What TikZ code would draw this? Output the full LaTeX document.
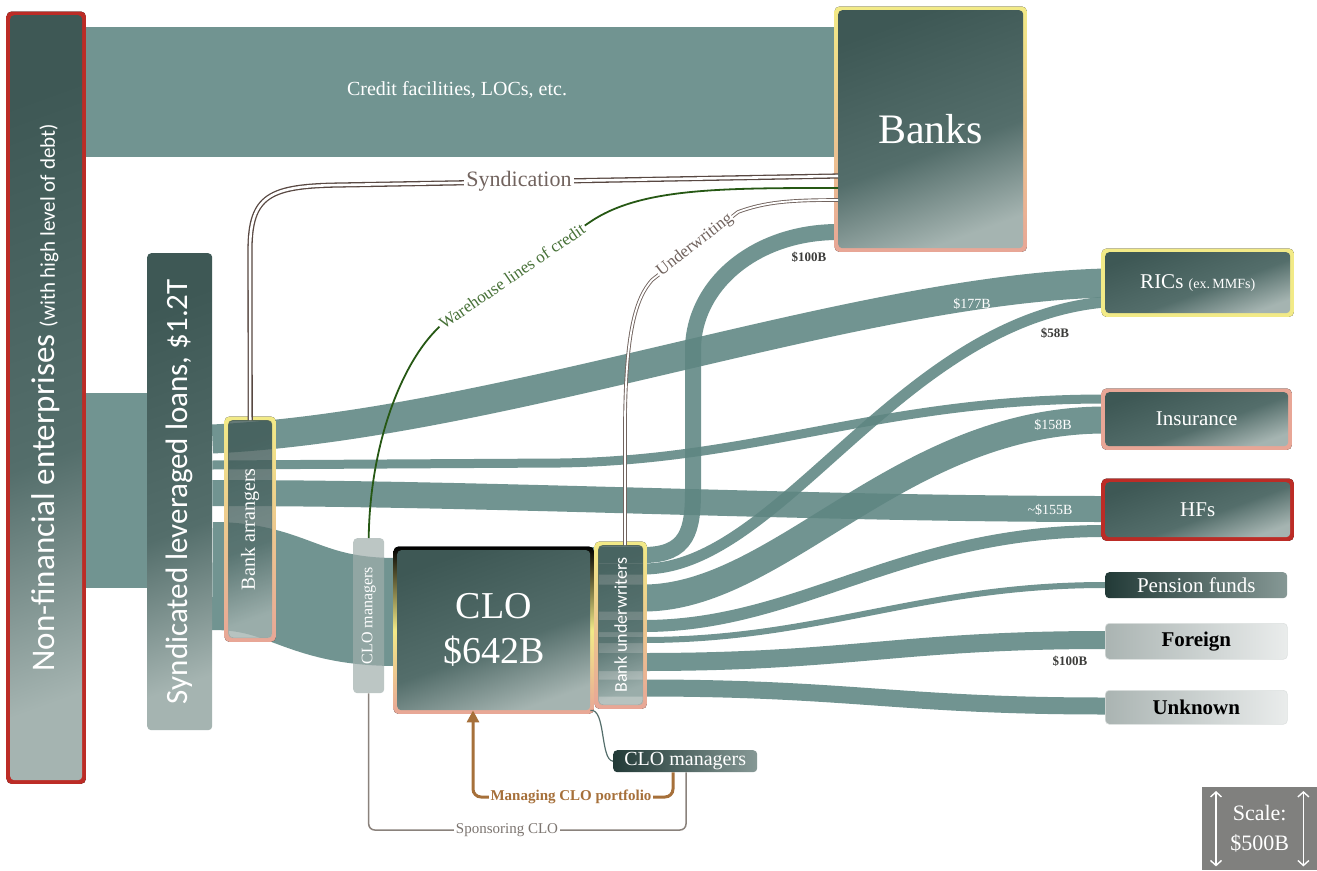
\documentclass[tikz,border=0pt]{standalone}
\usepackage{fontspec}
\setmainfont{Liberation Serif}
\newfontfamily\carlito{Carlito}
\usetikzlibrary{arrows.meta,calc,positioning}

\definecolor{streamc}{RGB}{94,134,130}
\definecolor{boxdark}{RGB}{62,88,85}
\definecolor{boxmid}{RGB}{84,110,107}
\definecolor{boxlight}{RGB}{165,180,177}
\definecolor{boxdeep}{RGB}{34,58,55}
\definecolor{framey}{RGB}{242,234,135}
\definecolor{framesal}{RGB}{232,166,150}
\definecolor{framer}{RGB}{188,44,38}
\definecolor{syndbrown}{RGB}{88,72,66}
\definecolor{whgreen}{RGB}{38,88,20}
\definecolor{mgrbrown}{RGB}{166,112,58}
\definecolor{sponsgrey}{RGB}{138,130,124}
\definecolor{cmvgrey}{RGB}{160,174,172}
\definecolor{scalegrey}{RGB}{128,128,126}
\definecolor{paleg}{RGB}{170,180,178}
\definecolor{darktext}{RGB}{60,60,58}

\pgfdeclarelayer{flows}
\pgfdeclarelayer{frames}
\pgfsetlayers{flows,frames,main}

\pgfdeclareverticalshading{boxshade}{100bp}{color(0bp)=(boxlight); color(25bp)=(boxlight); color(45bp)=(boxmid); color(75bp)=(boxdark); color(100bp)=(boxdark)}

\begin{document}
\begin{tikzpicture}[x=1pt, y=-1pt,
  stream/.style={draw=streamc, draw opacity=0.88, line width=#1},
  box/.style={anchor=north west, rounded corners=4pt, shade, shading=boxshade, shading angle=20, text=white, inner sep=0pt, align=center},
  glass/.style={box, fill opacity=0.8, text opacity=1},
  target/.style={box, font=\fontsize{21}{24}\selectfont},
  darkbar/.style={target, left color=boxdeep, right color=boxlight!70!boxdark},
  pale/.style={target, left color=paleg, right color=paleg!25, draw=paleg!40, line width=0.6pt, text=black, font=\fontsize{21}{24}\selectfont\bfseries},
  amount/.style={font=\fontsize{14}{16}\selectfont, text=white, inner sep=1pt},
  amountd/.style={amount, text=darktext, font=\fontsize{13}{15}\selectfont\bfseries},
  linklabel/.style={fill=white, inner sep=2pt},
  syndline/.style={draw=syndbrown, line width=1.3pt, double=white, double distance=2.6pt},
  undline/.style={draw=syndbrown!85, line width=0.9pt, double=white, double distance=1.8pt},
  whline/.style={draw=whgreen, line width=1.8pt},
  mgrline/.style={draw=mgrbrown, line width=3pt},
  mgrlink/.style={draw=boxmid, line width=1.2pt},
  sponsline/.style={draw=sponsgrey, line width=1.5pt},
  scalearr/.style={draw=white, line width=1.4pt, {Straight Barb[length=5pt,width=11pt]}-{Straight Barb[length=5pt,width=11pt]}}
  ]
  \useasboundingbox (0,0) rectangle (1317,870);

  % boxes
  \node[box, minimum width=72, minimum height=765] (nfe) at (10,15)
    {\rotatebox{90}{\carlito\fontsize{33}{36}\selectfont Non-financial enterprises {\fontsize{21}{24}\selectfont(with high level of debt)}}};
  \node[box, minimum width=185, minimum height=238, font=\fontsize{42}{46}\selectfont] (banks) at (838,10) {Banks};
  \node[box, minimum width=65, minimum height=477] (synd) at (147,253)
    {\rotatebox{90}{\carlito\fontsize{31}{34}\selectfont Syndicated leveraged loans, \$1.2T}};
  \node[glass, minimum width=44, minimum height=218] (arr) at (228,420)
    {\rotatebox{90}{\fontsize{20}{22}\selectfont Bank arrangers}};
  \node[glass, shading=axis, top color=cmvgrey, bottom color=cmvgrey, fill opacity=0.7, minimum width=31, minimum height=155] (cmv) at (353,538)
    {\rotatebox{90}{\fontsize{16}{18}\selectfont CLO managers}};
  \node[box, minimum width=193, minimum height=160, font=\fontsize{38}{45}\selectfont] (clo) at (397,550) {CLO\\\$642B};
  \node[glass, minimum width=45, minimum height=160] (und) at (598,545)
    {\rotatebox{90}{\carlito\fontsize{18}{20}\selectfont Bank underwriters}};
  \node[darkbar, minimum width=144, minimum height=22, font=\fontsize{20}{22}\selectfont] (cmh) at (613,750) {CLO managers};

  \node[target, minimum width=185, minimum height=61] (rics) at (1105,252) {RICs {\fontsize{14}{16}\selectfont(ex.\,MMFs)}};
  \node[target, minimum width=183, minimum height=54] (ins) at (1105,392) {Insurance};
  \node[target, minimum width=185, minimum height=55] (hfs) at (1105,482) {HFs};
  \node[darkbar, minimum width=182, minimum height=26] (pens) at (1105,572) {Pension funds};
  \node[pale, minimum width=182, minimum height=36] (forn) at (1105,623) {Foreign};
  \node[pale, minimum width=182, minimum height=34] (unkn) at (1105,690) {Unknown};

  \node[anchor=north west, fill=scalegrey, text=white, align=center, minimum width=115, minimum height=83,
    font=\fontsize{22}{30}\selectfont] (scalebox) at (1202,787) {Scale:\\\$500B};
  \draw[scalearr] ($(scalebox.north west)+(14,4)$) -- ($(scalebox.south west)+(14,-4)$);
  \draw[scalearr] ($(scalebox.north east)+(-14,4)$) -- ($(scalebox.south east)+(-14,-4)$);

  % coloured frames
  \begin{pgfonlayer}{frames}
    \foreach \n/\ct/\cb in {nfe/framer/framer, banks/framey/framesal, arr/framey/framesal, und/framey/framesal, rics/framey/framey, ins/framesal/framesal, hfs/framer/framer}
      \fill[even odd rule, top color=\ct, bottom color=\cb, rounded corners=5pt]
        ($(\n.north west)+(-3.5,-3.5)$) rectangle ($(\n.south east)+(3.5,3.5)$)
        ($(\n.north west)+(0.5,0.5)$) rectangle ($(\n.south east)+(-0.5,-0.5)$);
    \fill[even odd rule, top color=black, bottom color=framesal, middle color=framey, rounded corners=5pt]
      ($(clo.north west)+(-3.5,-3.5)$) rectangle ($(clo.south east)+(3.5,3.5)$)
      ($(clo.north west)+(0.5,0.5)$) rectangle ($(clo.south east)+(-0.5,-0.5)$);
  \end{pgfonlayer}

  % money flows
  \begin{pgfonlayer}{flows}
    \fill[white] (0,0) rectangle (1317,870);
    \draw[stream=130] (nfe.east |- 0,92) -- (banks.west |- 0,92);
    \draw[stream=195] (nfe.east |- 0,490) -- (synd.west |- 0,490);

    \draw[stream=29] (synd.east |- 0,439) .. controls (500,425) and (850,290) .. (rics.west |- 0,283);
    \draw[stream=9] (synd.east |- 0,465) -- (560,463) .. controls (760,460) and (880,399) .. (ins.west |- 0,399);
    \draw[stream=26] (synd.east |- 0,493) .. controls (500,493) and (800,509) .. (hfs.west |- 0,509);
    \draw[stream=108] (synd.east |- 0,576) .. controls (290,576) and (300,612) .. (clo.west |- 0,612);

    \draw[stream=16] (clo.east |- 0,555) -- (und.east |- 0,555) .. controls (688,555) and (693,530) .. (693,490)
      -- (693,350) .. controls (693,285) and (755,232) .. (banks.west |- 0,232);
    \draw[stream=11] (clo.east |- 0,569) -- (und.east |- 0,569) .. controls (780,569) and (900,320) .. (rics.west |- 0,302);
    \draw[stream=27] (clo.east |- 0,598) -- (und.east |- 0,598) .. controls (780,598) and (900,420) .. (ins.west |- 0,420);
    \draw[stream=12] (clo.east |- 0,626) -- (und.east |- 0,626) .. controls (800,626) and (900,531) .. (hfs.west |- 0,531);
    \draw[stream=6] (clo.east |- 0,640) -- (und.east |- 0,640) .. controls (820,640) and (920,585) .. (pens.west |- 0,585);
    \draw[stream=18] (clo.east |- 0,662) -- (und.east |- 0,662) .. controls (850,662) and (900,640) .. (forn.west |- 0,640);
    \draw[stream=17] (clo.east |- 0,688) -- (und.east |- 0,688) .. controls (850,688) and (900,706) .. (unkn.west |- 0,706);
  \end{pgfonlayer}

  \node[text=white, font=\fontsize{20}{24}\selectfont] (credit) at (457,90) {Credit facilities, LOCs, etc.};
  \node[amountd] (a100top) at (809,257) {\$100B};
  \node[amount] (a177) at (972,304) {\$177B};
  \node[amountd] (a58) at (1055,333) {\$58B};
  \node[amount] (a158) at (1053,425) {\$158B};
  \node[amount] (a155) at (1050,510) {\textasciitilde\$155B};
  \node[amountd] (a100low) at (1070,661) {\$100B};

  % relations
  \draw[syndline] (arr.north) -- (250,250) .. controls (250,195) and (270,186) .. (340,185) -- (banks.west |- 0,176);
  \node[linklabel, text=syndbrown!85, font=\fontsize{22}{26}\selectfont] (syndlabel) at (519,181) {Syndication};

  \draw[whline] (cmv.north) .. controls (370,440) and (405,350) .. (450,318) -- (590,222)
    .. controls (640,188) and (720,188) .. (banks.west |- 0,188);
  \node[linklabel, rotate=34.4, text=whgreen!85, font=\fontsize{17}{20}\selectfont] (whlabel) at (512,276) {Warehouse lines of credit};

  \draw[undline] (und.north -| 625,0) -- (625,420) .. controls (626,330) and (636,298) .. (652,280) -- (738,212)
    .. controls (765,202) and (790,200) .. (banks.west |- 0,200);
  \node[linklabel, rotate=38, inner sep=1pt, text=syndbrown!85, font=\fontsize{17}{20}\selectfont] (undlabel) at (695,245) {Underwriting};

  \draw[mgrlink] (clo.south east) .. controls (606,708) and (600,760) .. (cmh.west);

  \draw[mgrline, rounded corners=8pt, -{Triangle[length=12pt,width=12pt]}] (cmh.south -| 673,0) |- (473,797) -- (clo.south -| 473,0);
  \node[linklabel, text=mgrbrown, font=\fontsize{15}{18}\selectfont\bfseries] (mgrlabel) at (571,797) {Managing CLO portfolio};

  \draw[sponsline, rounded corners=6pt] (cmv.south) |- (686,830) -- (cmh.south -| 686,0);
  \node[linklabel, text=sponsgrey!90!black, font=\fontsize{15}{18}\selectfont] (sponslabel) at (507,830) {Sponsoring CLO};
\end{tikzpicture}
\end{document}
